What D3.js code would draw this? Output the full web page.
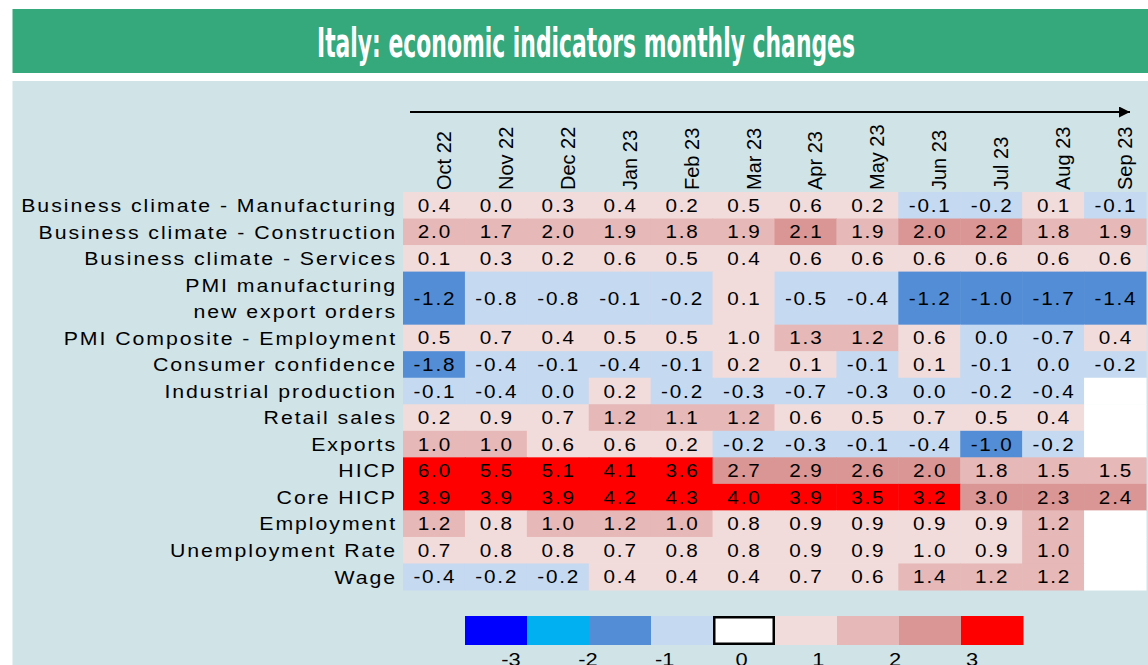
<!DOCTYPE html>
<html>
<head>
<meta charset="utf-8">
<script src="https://cdn.jsdelivr.net/npm/d3@7/dist/d3.min.js"></script>
<style>
  html, body { margin: 0; padding: 0; background: #ffffff; }
  svg { display: block; font-family: "Liberation Sans", Arial, sans-serif; }
</style>
</head>
<body>
<div id="chart"></div>
<script>
const months = ['Oct 22', 'Nov 22', 'Dec 22', 'Jan 23', 'Feb 23', 'Mar 23',
  'Apr 23', 'May 23', 'Jun 23', 'Jul 23', 'Aug 23', 'Sep 23'];

const indicators = [
  'Business climate - Manufacturing',
  'Business climate - Construction',
  'Business climate - Services',
  'PMI manufacturing\nnew export orders',
  'PMI Composite - Employment',
  'Consumer confidence',
  'Industrial production',
  'Retail sales',
  'Exports',
  'HICP',
  'Core HICP',
  'Employment',
  'Unemployment Rate',
  'Wage'
];

// displayed values (null = not yet available)
const values = [
  [0.4, 0.0, 0.3, 0.4, 0.2, 0.5, 0.6, 0.2, -0.1, -0.2, 0.1, -0.1],
  [2.0, 1.7, 2.0, 1.9, 1.8, 1.9, 2.1, 1.9, 2.0, 2.2, 1.8, 1.9],
  [0.1, 0.3, 0.2, 0.6, 0.5, 0.4, 0.6, 0.6, 0.6, 0.6, 0.6, 0.6],
  [-1.2, -0.8, -0.8, -0.1, -0.2, 0.1, -0.5, -0.4, -1.2, -1.0, -1.7, -1.4],
  [0.5, 0.7, 0.4, 0.5, 0.5, 1.0, 1.3, 1.2, 0.6, 0.0, -0.7, 0.4],
  [-1.8, -0.4, -0.1, -0.4, -0.1, 0.2, 0.1, -0.1, 0.1, -0.1, 0.0, -0.2],
  [-0.1, -0.4, 0.0, 0.2, -0.2, -0.3, -0.7, -0.3, 0.0, -0.2, -0.4, null],
  [0.2, 0.9, 0.7, 1.2, 1.1, 1.2, 0.6, 0.5, 0.7, 0.5, 0.4, null],
  [1.0, 1.0, 0.6, 0.6, 0.2, -0.2, -0.3, -0.1, -0.4, -1.0, -0.2, null],
  [6.0, 5.5, 5.1, 4.1, 3.6, 2.7, 2.9, 2.6, 2.0, 1.8, 1.5, 1.5],
  [3.9, 3.9, 3.9, 4.2, 4.3, 4.0, 3.9, 3.5, 3.2, 3.0, 2.3, 2.4],
  [1.2, 0.8, 1.0, 1.2, 1.0, 0.8, 0.9, 0.9, 0.9, 0.9, 1.2, null],
  [0.7, 0.8, 0.8, 0.7, 0.8, 0.8, 0.9, 0.9, 1.0, 0.9, 1.0, null],
  [-0.4, -0.2, -0.2, 0.4, 0.4, 0.4, 0.7, 0.6, 1.4, 1.2, 1.2, null]
];

// colour class of each cell as shown (unrounded data decides the band)
const bins = [
  [1, 1, 1, 1, 1, 1, 1, 1, -1, -1, 1, -1],
  [2, 2, 2, 2, 2, 2, 3, 2, 3, 3, 2, 2],
  [1, 1, 1, 1, 1, 1, 1, 1, 1, 1, 1, 1],
  [-2, -1, -1, -1, -1, 1, -1, -1, -2, -2, -2, -2],
  [1, 1, 1, 1, 1, 1, 2, 2, 1, -1, -1, 1],
  [-2, -1, -1, -1, -1, 1, 1, -1, 1, -1, -1, -1],
  [-1, -1, -1, 1, -1, -1, -1, -1, -1, -1, -1, null],
  [1, 1, 1, 2, 2, 2, 1, 1, 1, 1, 1, null],
  [2, 2, 1, 1, 1, -1, -1, -1, -1, -2, -1, null],
  [4, 4, 4, 4, 4, 3, 3, 3, 3, 2, 2, 2],
  [4, 4, 4, 4, 4, 4, 4, 4, 4, 3, 3, 3],
  [2, 1, 2, 2, 2, 1, 1, 1, 1, 1, 2, null],
  [1, 1, 1, 1, 1, 1, 1, 1, 1, 1, 2, null],
  [-1, -1, -1, 1, 1, 1, 1, 1, 2, 2, 2, null]
];

const legendClasses = [-4, -3, -2, -1, 0, 1, 2, 3, 4];
const legendTicks = [-3, -2, -1, 0, 1, 2, 3];

const width = 1148;
const height = 665;
const stretch = 1.15; // the sheet's text is drawn a little wide

const color = d3.scaleOrdinal()
  .domain(legendClasses)
  .range(['#0000ff', '#00b0f0', '#538dd5', '#c5d9f1', '#ffffff',
    '#f2dcdb', '#e6b8b7', '#da9694', '#ff0000']);

const svg = d3.select('#chart')
  .append('svg')
  .attr('width', width)
  .attr('height', height);

// Title band
svg.append('rect')
  .attr('x', 12.5).attr('y', 9)
  .attr('width', width - 12.5).attr('height', 64)
  .attr('fill', '#35a87c');

svg.append('text')
  .attr('x', 586)
  .attr('y', 57)
  .attr('text-anchor', 'middle')
  .attr('fill', '#ffffff')
  .attr('font-family', '"Liberation Sans Narrow", "DejaVu Sans Condensed", sans-serif')
  .attr('font-weight', 'bold')
  .attr('font-size', 41)
  .attr('textLength', 538)
  .attr('lengthAdjust', 'spacingAndGlyphs')
  .text('Italy: economic indicators monthly changes');

// Panel
svg.append('rect')
  .attr('x', 12.5).attr('y', 81)
  .attr('width', width - 12.5).attr('height', height - 81)
  .attr('fill', '#d0e3e7');

// Scales
const x = d3.scaleBand()
  .domain(months)
  .range([403, 1146]);

const rowUnits = indicators.map(l => l.split('\n').length);
const rowStart = d3.cumsum([0].concat(rowUnits));
const y = d3.scaleLinear()
  .domain([0, d3.sum(rowUnits)])
  .range([192, 590]);

// Cells
const cells = [];
values.forEach((row, i) => row.forEach((v, j) => {
  cells.push({ i, j, v, bin: bins[i][j] });
}));

const grid = svg.append('g');

grid.selectAll('rect')
  .data(cells)
  .join('rect')
  .attr('x', d => x(months[d.j]))
  .attr('y', d => y(rowStart[d.i]))
  .attr('width', x.bandwidth() + 0.5)
  .attr('height', d => y(rowStart[d.i] + rowUnits[d.i]) - y(rowStart[d.i]) + 0.5)
  .attr('fill', d => d.bin === null ? '#ffffff' : color(d.bin));

const cellSpacing = 1.6;
grid.selectAll('text')
  .data(cells.filter(d => d.v !== null))
  .join('text')
  .attr('transform', d => {
    const cx = x(months[d.j]) + x.bandwidth() / 2 + cellSpacing * stretch / 2;
    const cy = (y(rowStart[d.i]) + y(rowStart[d.i] + rowUnits[d.i])) / 2 + 6.5;
    return `translate(${cx}, ${cy}) scale(${stretch}, 1)`;
  })
  .attr('text-anchor', 'middle')
  .attr('font-size', 18)
  .attr('letter-spacing', cellSpacing)
  .attr('fill', '#000000')
  .text(d => d.v.toFixed(1));

// Row labels
const labelRight = 397;
const labels = svg.append('g')
  .selectAll('text')
  .data(indicators)
  .join('text')
  .attr('text-anchor', 'end')
  .attr('font-size', 18.5)
  .attr('fill', '#000000');

labels.each(function(d, i) {
  const lines = d.split('\n');
  d3.select(this).selectAll('tspan')
    .data(lines)
    .join('tspan')
    .attr('x', 0)
    .attr('y', (l, k) => (y(rowStart[i] + k) + y(rowStart[i] + k + 1)) / 2 + 6.8)
    .text(l => l);
});

// stretch label tracking so the longest label spans like the reference
const natural = labels.nodes()[0].getComputedTextLength();
const spacing = (376 / stretch - natural) / indicators[0].length;
labels
  .attr('letter-spacing', spacing)
  .attr('transform', `translate(${labelRight}, 0) scale(${stretch}, 1)`);

// Month headers
svg.append('g')
  .selectAll('text')
  .data(months)
  .join('text')
  .attr('transform', d => `translate(${x(d) + x.bandwidth() / 2 + 17}, 190) rotate(-90)`)
  .attr('text-anchor', 'start')
  .attr('font-size', 20)
  .attr('fill', '#000000')
  .text(d => d);

// Time arrow
svg.append('defs')
  .append('marker')
  .attr('id', 'arrowhead')
  .attr('viewBox', '0 0 10 10')
  .attr('refX', 10).attr('refY', 5)
  .attr('markerWidth', 6.5).attr('markerHeight', 5.5)
  .attr('markerUnits', 'strokeWidth')
  .attr('orient', 'auto')
  .append('path')
  .attr('d', 'M0,0L10,5L0,10Z')
  .attr('fill', '#000000');

svg.append('line')
  .attr('x1', x.range()[0] + 7)
  .attr('x2', x.range()[1] - 16)
  .attr('y1', 112).attr('y2', 112)
  .attr('stroke', '#000000')
  .attr('stroke-width', 2)
  .attr('marker-end', 'url(#arrowhead)');

// Legend
const lx = d3.scaleBand()
  .domain(legendClasses)
  .range([465, 1023]);

const legend = svg.append('g');

legend.selectAll('rect')
  .data(legendClasses)
  .join('rect')
  .attr('x', d => lx(d))
  .attr('y', 616)
  .attr('width', lx.bandwidth() + 0.5)
  .attr('height', 29)
  .attr('fill', d => color(d));

// outlined zero box
legend.append('rect')
  .attr('x', lx(0) + 1.25)
  .attr('y', 617.25)
  .attr('width', lx.bandwidth() - 2.5)
  .attr('height', 26.5)
  .attr('fill', color(0))
  .attr('stroke', '#000000')
  .attr('stroke-width', 2.5);

const tickX = d3.scaleLinear()
  .domain([-3, 3])
  .range([511, 972]);

legend.selectAll('text')
  .data(legendTicks)
  .join('text')
  .attr('transform', d => `translate(${tickX(d)}, 666) scale(${stretch}, 1)`)
  .attr('text-anchor', 'middle')
  .attr('font-size', 19)
  .attr('fill', '#000000')
  .text(d => d);
</script>
</body>
</html>
